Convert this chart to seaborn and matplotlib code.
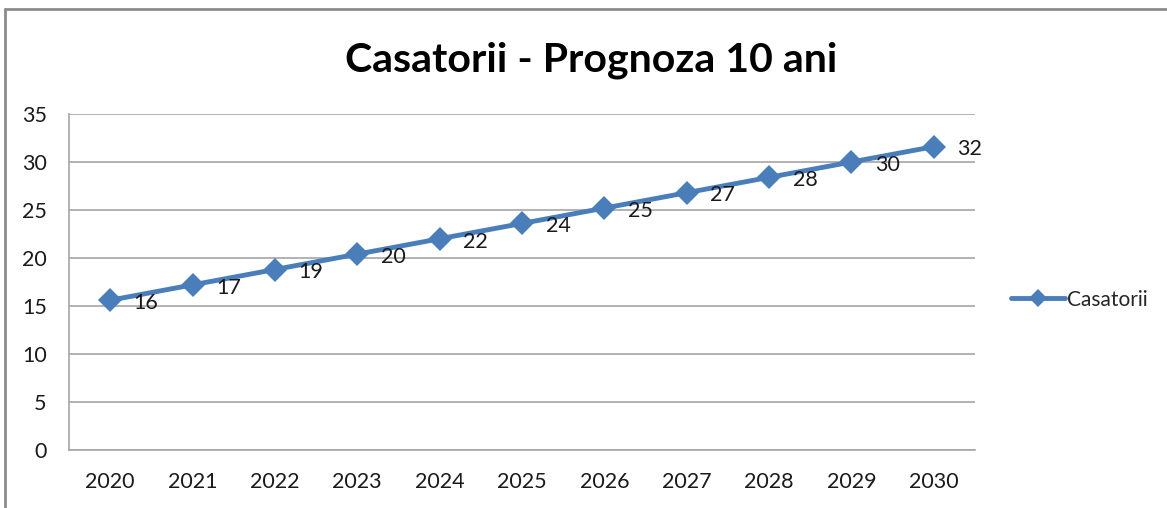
import matplotlib
matplotlib.use("Agg")
import matplotlib.pyplot as plt
import seaborn as sns
import pandas as pd
from matplotlib.lines import Line2D

# Chart data
years = ["2020", "2021", "2022", "2023", "2024", "2025", "2026", "2027", "2028", "2029", "2030"]
casatorii = [15.6, 17.2, 18.8, 20.4, 22.0, 23.6, 25.2, 26.8, 28.4, 30.0, 31.6]
y_ticks = [0, 5, 10, 15, 20, 25, 30, 35]
series_name = "Casatorii"
title = "Casatorii - Prognoza 10 ani"

df = pd.DataFrame({"an": years, "valoare": casatorii, "serie": series_name})

sns.set_theme(style="white")
plt.rcParams["font.family"] = ["Lato", "DejaVu Sans"]

blue = "#4A7EBB"
grid_gray = "#A6A6A6"

fig = plt.figure(figsize=(11.67, 5.08), dpi=100)
ax = fig.add_axes([0.0591, 0.1142, 0.8355 - 0.0591, 0.7756 - 0.1142])

sns.lineplot(data=df, x="an", y="valoare", hue="serie", palette=[blue],
             marker="D", markersize=12, linewidth=3.5, markeredgewidth=0,
             sort=False, ax=ax)

# data labels
for i, v in enumerate(df["valoare"]):
    ax.annotate(f"{v:.0f}", (i, v), textcoords="offset points", xytext=(17, -2),
                ha="left", va="center", fontsize=15.5, color="#1a1a1a")

ax.set_xlim(-0.5, len(years) - 0.5)
ax.set_ylim(0, 35)
ax.set_yticks(y_ticks)
ax.set_xlabel("")
ax.set_ylabel("")
ax.yaxis.grid(True, color=grid_gray, linewidth=1.2)
ax.set_axisbelow(True)
for s in ["top", "right"]:
    ax.spines[s].set_visible(False)
ax.spines["bottom"].set_color(grid_gray)
ax.spines["left"].set_color(grid_gray)
ax.spines["bottom"].set_linewidth(1.2)
ax.spines["left"].set_linewidth(1.2)
ax.tick_params(axis="y", length=0, pad=16, labelsize=15.5, labelcolor="#1a1a1a")
ax.tick_params(axis="x", length=0, pad=16, labelsize=15.5, labelcolor="#1a1a1a")

ax.legend(loc="center left", bbox_to_anchor=(0.859, 0.41), bbox_transform=fig.transFigure,
          frameon=False, fontsize=15, handlelength=2.6, handletextpad=0.1,
          markerscale=0.75, borderaxespad=0)

fig.text(0.507, 0.882, title, ha="center", va="center", fontsize=29.5,
         fontweight="bold", color="#000000")

# outer chart border (left and top edges visible)
fig.add_artist(Line2D([5 / 1167, 5 / 1167], [0, 1 - 9 / 508], transform=fig.transFigure,
                      color="#8C8C8C", linewidth=2))
fig.add_artist(Line2D([5 / 1167, 1], [1 - 9 / 508, 1 - 9 / 508], transform=fig.transFigure,
                      color="#8C8C8C", linewidth=2))

fig.savefig("out.png", dpi=100, facecolor="white")
